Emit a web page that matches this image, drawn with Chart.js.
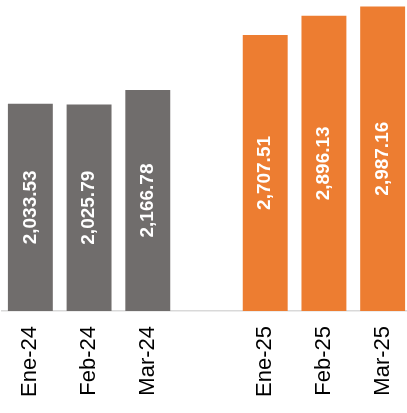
<!DOCTYPE html>
<html>
<head>
<meta charset="utf-8">
<script src="https://cdn.jsdelivr.net/npm/chart.js@4"></script>
<style>
  html, body { margin: 0; padding: 0; background: #fff; overflow: hidden; }
  .chart-container { position: relative; margin-left: 1px; width: 411px; height: 413px; }
</style>
</head>
<body>
<div class="chart-container">
  <canvas id="chart"></canvas>
</div>
<script>
// months shown on the axis, empty slot separates the two years
const categories = ['Ene-24', 'Feb-24', 'Mar-24', '', 'Ene-25', 'Feb-25', 'Mar-25'];
const values2024 = [2033.53, 2025.79, 2166.78, null, null, null, null];
const values2025 = [null, null, null, null, 2707.51, 2896.13, 2987.16];

const fmt = (v) => v.toLocaleString('en-US', { minimumFractionDigits: 2, maximumFractionDigits: 2 });

// white rotated value inside each bar
const barLabels = {
  id: 'barLabels',
  afterDatasetsDraw(chart) {
    const ctx = chart.ctx;
    chart.data.datasets.forEach((ds, i) => {
      chart.getDatasetMeta(i).data.forEach((bar, j) => {
        const v = ds.data[j];
        if (v == null) return;
        const mid = (bar.y + bar.base) / 2;
        ctx.save();
        ctx.translate(bar.x, mid);
        ctx.rotate(-Math.PI / 2);
        ctx.font = 'bold 19px "Liberation Sans", Arial, sans-serif';
        ctx.fillStyle = '#ffffff';
        ctx.textAlign = 'center';
        ctx.textBaseline = 'middle';
        ctx.fillText(fmt(v), 0, 0);
        ctx.restore();
      });
    });
  }
};

new Chart(document.getElementById('chart'), {
  type: 'bar',
  data: {
    labels: categories,
    datasets: [
      { label: '2024', data: values2024, backgroundColor: '#706d6c' },
      { label: '2025', data: values2025, backgroundColor: '#ed7d31' },
    ],
  },
  options: {
    responsive: true,
    maintainAspectRatio: false,
    animation: false,
    layout: { padding: 0 },
    datasets: {
      bar: { grouped: false, categoryPercentage: 1, barPercentage: 0.765 },
    },
    plugins: {
      legend: { display: false },
      tooltip: { enabled: false },
    },
    scales: {
      x: {
        grid: { display: false, drawTicks: false },
        border: { display: true, color: '#d9d9d9', width: 1.5 },
        ticks: {
          color: '#000',
          minRotation: 90,
          maxRotation: 90,
          padding: 15,
          font: { family: '"Liberation Sans", Arial, sans-serif', size: 22 },
        },
        afterFit: (s) => {
          s.height = 102;
          s.paddingLeft = 0;
          s.paddingRight = 0;
        },
      },
      y: {
        display: false,
        min: 0,
        max: 3050,
      },
    },
  },
  plugins: [barLabels],
});
</script>
</body>
</html>
